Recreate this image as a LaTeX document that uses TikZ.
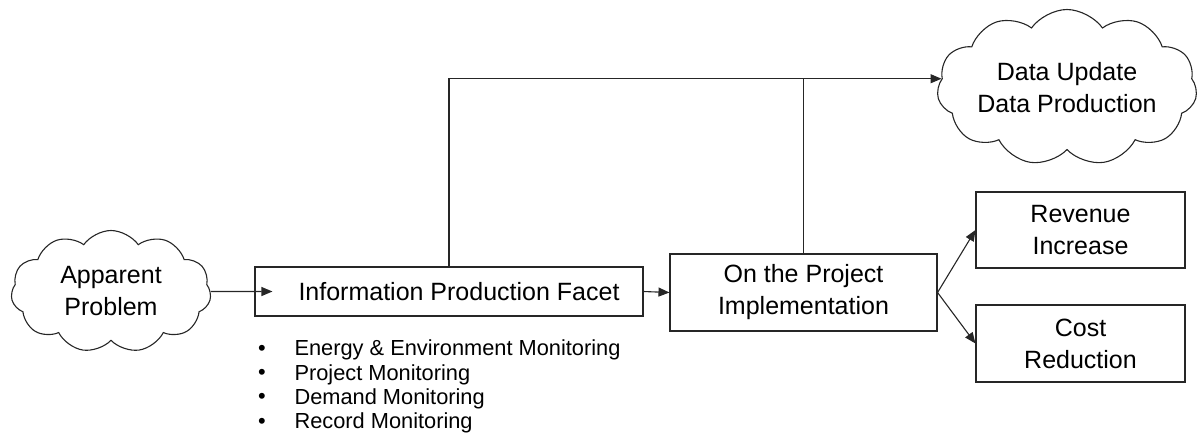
\documentclass[tikz,border=0pt]{standalone}
\usepackage{fontspec}
\setmainfont{Liberation Sans}
\usetikzlibrary{shapes.symbols,arrows.meta}

\tikzset{
  box/.style={draw,rectangle,align=center,inner sep=0pt,font=\fontsize{12.5}{16}\selectfont},
  puff/.style={draw,cloud,cloud puffs=11,cloud puff arc=110,cloud ignores aspect,align=center,inner sep=0pt,font=\fontsize{12.5}{16}\selectfont},
  item/.style={inner sep=0pt,font=\fontsize{10.9}{12}\selectfont},
  link/.style={-{Triangle[length=5.5pt,width=4.5pt]}},
}

\begin{document}
\begin{tikzpicture}[x=0.5pt,y=-0.5pt,line width=0.55pt,draw=black!85]
\useasboundingbox (0,0) rectangle (1200,441);
% nodes
\node[puff,minimum width=100pt,minimum height=61pt] (prob) at (111,291.5) {Apparent\\Problem};
\node[box,minimum width=194pt,minimum height=24.5pt] (facet) at (449,291.5) {\hspace{10pt}Information Production Facet};
\node[box,minimum width=133.5pt,minimum height=38.5pt] (impl) at (803.5,292.5) {On the Project\\Implementation};
\node[box,minimum width=104.5pt,minimum height=38pt] (rev) at (1080.5,230) {Revenue\\Increase};
\node[box,minimum width=104.5pt,minimum height=38.5pt] (cost) at (1080.5,343.5) {Cost\\Reduction};
\node[puff,minimum width=130pt,minimum height=78pt] (data) at (1067,87.5) {Data Update\\Data Production};
\coordinate (entry) at ([xshift=9pt]facet.west);
% monitoring list
\foreach \txt [count=\i] in {Energy \& Environment Monitoring,Project Monitoring,Demand Monitoring,Record Monitoring} {
  \node[item] (dot\i) at (262,{350+24.4*(\i-1)}) {\textbullet};
  \node[item,anchor=west] (mon\i) at (294,{350+24.4*(\i-1)}) {\txt};
}
% connectors
\draw[link] (prob.east) -- (entry);
\draw[link] (facet.east) -- (impl.west);
\draw[link] (impl.east) -- (rev.west);
\draw[link] (impl.east) -- (cost.west);
\draw[link] (facet.north) |- (data.176);
\draw (impl.north) -- (impl.north |- data.176);
\end{tikzpicture}
\end{document}
